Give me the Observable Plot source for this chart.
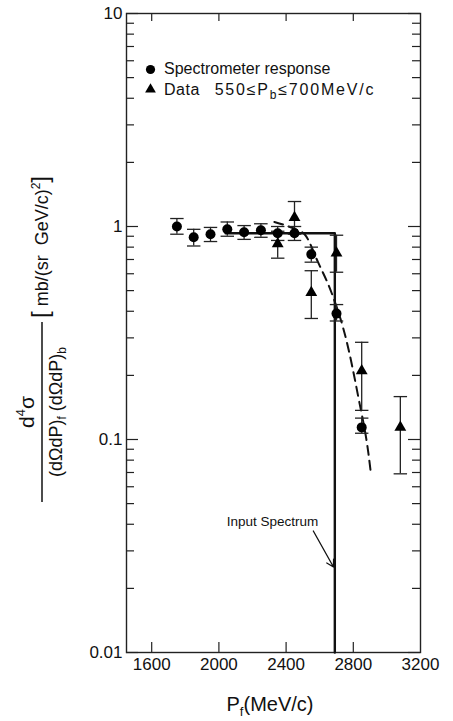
<!DOCTYPE html>
<html><head><meta charset="utf-8">
<script src="https://cdn.jsdelivr.net/npm/d3@7"></script>
<script src="https://cdn.jsdelivr.net/npm/@observablehq/plot@0.6"></script>
<style>body{margin:0;background:#fff} svg{display:block}</style>
</head><body><div id="chart"></div>
<script>
// Spectrometer response (circles)
const spectroP  = [1750, 1850, 1950, 2050, 2150, 2250, 2350, 2450, 2550, 2700, 2850];
const spectroV  = [1.00, 0.89, 0.92, 0.97, 0.94, 0.96, 0.93, 0.93, 0.74, 0.39, 0.114];
const spectroLo = [0.92, 0.81, 0.85, 0.90, 0.87, 0.89, 0.86, 0.86, 0.68, 0.36, 0.107];
const spectroHi = [1.09, 0.97, 0.99, 1.05, 1.01, 1.03, 1.00, 1.00, 0.80, 0.43, 0.126];
// Data 550 <= Pb <= 700 MeV/c (triangles)
const dataP  = [2350, 2450, 2550, 2700, 2850, 3080];
const dataV  = [0.83, 1.10, 0.49, 0.75, 0.21, 0.114];
const dataLo = [0.71, 0.92, 0.37, 0.61, 0.137, 0.069];
const dataHi = [0.95, 1.31, 0.62, 0.91, 0.286, 0.159];
// Input spectrum (solid)
const inputP = [2040, 2690, 2690];
const inputV = [0.93, 0.93, 0.01];
// Folded curve (dashed)
const foldP = [2330, 2400, 2470, 2510, 2590, 2670, 2760, 2830, 2890, 2906];
const foldV = [1.05, 1.01, 0.96, 0.92, 0.68, 0.49, 0.29, 0.158, 0.086, 0.068];
// Ticks
const xTicks = [1600, 2000, 2400, 2800, 3200];
const xInner = [1600, 2000, 2400, 2800];
const yMajor = [0.01, 0.1, 1, 10];
const yMinor = [0.02,0.03,0.04,0.05,0.06,0.07,0.08,0.09,0.2,0.3,0.4,0.5,0.6,0.7,0.8,0.9,2,3,4,5,6,7,8,9];
// Annotation
const annText = ["Input Spectrum"];
const annTextP = [2592], annTextV = [0.041];
const arrowP1 = [2562], arrowV1 = [0.0372], arrowP2 = [2682], arrowV2 = [0.0252];

const W = 453, H = 721, ML = 126, MR = 33, MT = 13, MB = 69;
const PW = W - ML - MR, PH = H - MT - MB;
const FONT = "Liberation Sans, Arial, sans-serif";

const spectro = spectroP.map((p, i) => ({p, v: spectroV[i], lo: spectroLo[i], hi: spectroHi[i]}));
const data = dataP.map((p, i) => ({p, v: dataV[i], lo: dataLo[i], hi: dataHi[i]}));
const input = inputP.map((p, i) => ({p, v: inputV[i]}));
const fold = foldP.map((p, i) => ({p, v: foldV[i]}));
const capHalf = 40;
const caps = [...spectro, ...data].flatMap(d => [{p: d.p, v: d.lo}, {p: d.p, v: d.hi}]);
const ann = annText.map((t, i) => ({t, p: annTextP[i], v: annTextV[i]}));
const arrows = arrowP1.map((p, i) => ({p1: p, v1: arrowV1[i], p2: arrowP2[i], v2: arrowV2[i]}));

const chart = Plot.plot({
  width: W, height: H,
  marginLeft: ML, marginRight: MR, marginTop: MT, marginBottom: MB,
  x: {domain: [1450, 3200]},
  y: {type: "log", domain: [0.01, 10]},
  style: {fontFamily: FONT, fontSize: "16px", color: "#111", background: "#fff"},
  marks: [
    Plot.frame({stroke: "#222", strokeWidth: 1.4}),
    Plot.axisX({ticks: xTicks, tickSize: 0, tickPadding: 5, tickFormat: d => String(d), label: null, fontSize: 17}),
    Plot.axisY({ticks: yMajor, tickSize: 0, tickPadding: 4, tickFormat: d => String(d), label: null, fontSize: 17}),
    Plot.tickX(xInner, {x: d => d, insetTop: PH - 10, stroke: "#222", strokeWidth: 1.2}),
    Plot.tickX(xInner, {x: d => d, insetBottom: PH - 8, stroke: "#222", strokeWidth: 1.2}),
    Plot.tickY(yMajor, {y: d => d, insetRight: PW - 12, stroke: "#222", strokeWidth: 1.2}),
    Plot.tickY(yMinor, {y: d => d, insetRight: PW - 8, stroke: "#222", strokeWidth: 1.2}),
    Plot.tickY(yMajor, {y: d => d, insetLeft: PW - 12, stroke: "#222", strokeWidth: 1.2}),
    Plot.tickY(yMinor, {y: d => d, insetLeft: PW - 8, stroke: "#222", strokeWidth: 1.2}),
    // input spectrum
    Plot.line(input, {x: "p", y: "v", stroke: "#111", strokeWidth: 2.4}),
    // dashed folded curve
    Plot.line(fold, {x: "p", y: "v", stroke: "#111", strokeWidth: 2, strokeDasharray: "9,6", curve: "monotone-x"}),
    // error bars
    Plot.ruleX([...spectro, ...data], {x: "p", y1: "lo", y2: "hi", stroke: "#222", strokeWidth: 1.3}),
    Plot.link(caps, {x1: d => d.p - capHalf, x2: d => d.p + capHalf, y1: "v", y2: "v", stroke: "#222", strokeWidth: 1.3}),
    Plot.dot(spectro, {x: "p", y: "v", r: 5, fill: "#000", stroke: "none"}),
    Plot.dot(data, {x: "p", y: "v", r: 4.4, symbol: "triangle", fill: "#000", stroke: "none"}),
    // annotation
    Plot.text(ann, {x: "p", y: "v", text: "t", fontSize: 13.5, textAnchor: "end", fill: "#111"}),
    Plot.arrow(arrows, {x1: "p1", y1: "v1", x2: "p2", y2: "v2", stroke: "#111", strokeWidth: 1.3, headLength: 9}),
    // legend symbols
    Plot.dot([0], {frameAnchor: "top-left", dx: 24, dy: 56, r: 4.6, fill: "#000", stroke: "none"}),
    Plot.dot([0], {frameAnchor: "top-left", dx: 24, dy: 76, r: 4, symbol: "triangle", fill: "#000", stroke: "none"})
  ]
});

document.getElementById("chart").appendChild(chart);
const svg = d3.select(chart);

// legend texts
const lg = svg.append("g").attr("font-family", FONT).attr("fill", "#111").attr("font-size", 16).attr("text-anchor", "start");
lg.append("text").attr("x", 164).attr("y", 74).text("Spectrometer response");
const t2 = lg.append("text").attr("x", 164).attr("y", 95).attr("letter-spacing", 1.8);
t2.append("tspan").attr("letter-spacing", 0.5).text("Data\u00a0\u00a0\u00a0");
t2.append("tspan").text("550\u2264P");
t2.append("tspan").attr("font-size", 12).attr("dy", 4).text("b");
t2.append("tspan").attr("dy", -4).text("\u2264700MeV/c");

// x label
const xl = svg.append("text").attr("x", 270).attr("y", 711).attr("text-anchor", "middle")
  .attr("font-family", FONT).attr("font-size", 20).attr("fill", "#111");
xl.append("tspan").text("P");
xl.append("tspan").attr("font-size", 13).attr("dy", 5).text("f");
xl.append("tspan").attr("dy", -5).text("(MeV/c)");

// y label (rotated)
const yg = svg.append("g").attr("transform", "translate(42,412) rotate(-90)")
  .attr("font-family", FONT).attr("fill", "#111");
const num = yg.append("text").attr("x", 0).attr("y", -8).attr("text-anchor", "middle").attr("font-size", 21);
num.append("tspan").text("d");
num.append("tspan").attr("font-size", 13).attr("dy", -9).text("4");
num.append("tspan").attr("dy", 9).text("\u03c3");
yg.append("line").attr("x1", -90).attr("x2", 90).attr("y1", 0).attr("y2", 0).attr("stroke", "#111").attr("stroke-width", 1.5);
const den = yg.append("text").attr("x", 0).attr("y", 20).attr("text-anchor", "middle").attr("font-size", 18);
den.append("tspan").text("(d\u03a9dP)");
den.append("tspan").attr("font-size", 12).attr("dy", 4).text("f");
den.append("tspan").attr("dy", -4).text(" (d\u03a9dP)");
den.append("tspan").attr("font-size", 12).attr("dy", 4).text("b");
const un = yg.append("text").attr("x", 94).attr("y", 6).attr("text-anchor", "start").attr("font-size", 18);
un.append("tspan").attr("font-size", 24).text("[");
un.append("tspan").text(" mb/(sr  GeV/c)");
un.append("tspan").attr("font-size", 12).attr("dy", -8).text("2");
un.append("tspan").attr("dy", 8).attr("font-size", 24).text("]");
</script>
</body></html>
